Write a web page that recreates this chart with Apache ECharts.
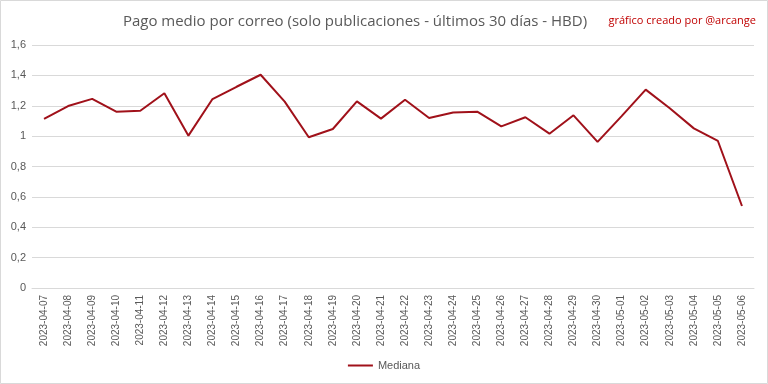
<!DOCTYPE html>
<html><head><meta charset="utf-8">
<script src="https://cdn.jsdelivr.net/npm/echarts@6/dist/echarts.min.js"></script>
<style>html,body{margin:0;padding:0;background:#fff}#c{width:768px;height:384px}</style>
</head><body><div id="c"></div>
<script>
const categories = ["2023-04-07","2023-04-08","2023-04-09","2023-04-10","2023-04-11","2023-04-12","2023-04-13","2023-04-14","2023-04-15","2023-04-16","2023-04-17","2023-04-18","2023-04-19","2023-04-20","2023-04-21","2023-04-22","2023-04-23","2023-04-24","2023-04-25","2023-04-26","2023-04-27","2023-04-28","2023-04-29","2023-04-30","2023-05-01","2023-05-02","2023-05-03","2023-05-04","2023-05-05","2023-05-06"];
const mediana = [1.113,1.198,1.245,1.161,1.167,1.282,1.003,1.244,1.325,1.404,1.227,0.993,1.047,1.229,1.115,1.240,1.119,1.156,1.161,1.064,1.124,1.016,1.137,0.962,1.132,1.306,1.183,1.051,0.968,0.540];
const yTicks = [0,0.2,0.4,0.6,0.8,1,1.2,1.4,1.6];
const titleText = "Pago medio por correo (solo publicaciones - últimos 30 días - HBD)";
const creditText = "gráfico creado por @arcange";
const seriesName = "Mediana";

const chart = echarts.init(document.getElementById('c'), null, {renderer:'canvas'});
chart.setOption({
  animation:false,
  backgroundColor:'#fff',
  title:[
    {text:titleText,left:350,top:9,textAlign:'center',textStyle:{fontFamily:'Open Sans',fontSize:15,fontWeight:'normal',color:'#595959'}},
    {text:creditText,right:7,top:10,textStyle:{fontFamily:'Open Sans',fontSize:11,fontWeight:'normal',color:'#c00000'}}
  ],
  graphic:[{type:'rect',shape:{x:0.5,y:0.5,width:767,height:383},style:{fill:'none',stroke:'#d9d9d9',lineWidth:1},silent:true}],
  legend:{data:[seriesName],bottom:8,left:'center',itemWidth:25,itemHeight:10,icon:'path://M0,4 L25,4 L25,6 L0,6 Z',textStyle:{fontFamily:'Liberation Sans',fontSize:11,color:'#595959'}},
  grid:{left:32,right:14,top:45,height:243,containLabel:false},
  xAxis:{type:'category',data:categories,boundaryGap:true,
    axisLine:{show:true,lineStyle:{color:'#d9d9d9',width:1}},axisTick:{show:false},
    axisLabel:{rotate:90,interval:0,fontFamily:'Liberation Sans',fontSize:10,color:'#595959',margin:7}},
  yAxis:{type:'value',min:0,max:1.6,interval:0.2,
    axisLine:{show:false},axisTick:{show:false},
    splitLine:{lineStyle:{color:'#d9d9d9',width:1}},
    axisLabel:{fontFamily:'Liberation Sans',fontSize:11,color:'#595959',margin:6,
      formatter:v=>{const t=yTicks.find(x=>Math.abs(x-v)<1e-9);return String(+(t!==undefined?t:v).toFixed(1)).replace('.',',');}}},
  series:[{name:seriesName,type:'line',data:mediana,showSymbol:false,symbol:'none',
    lineStyle:{color:'#a0111a',width:2},itemStyle:{color:'#a0111a'}}]
});
</script></body></html>
